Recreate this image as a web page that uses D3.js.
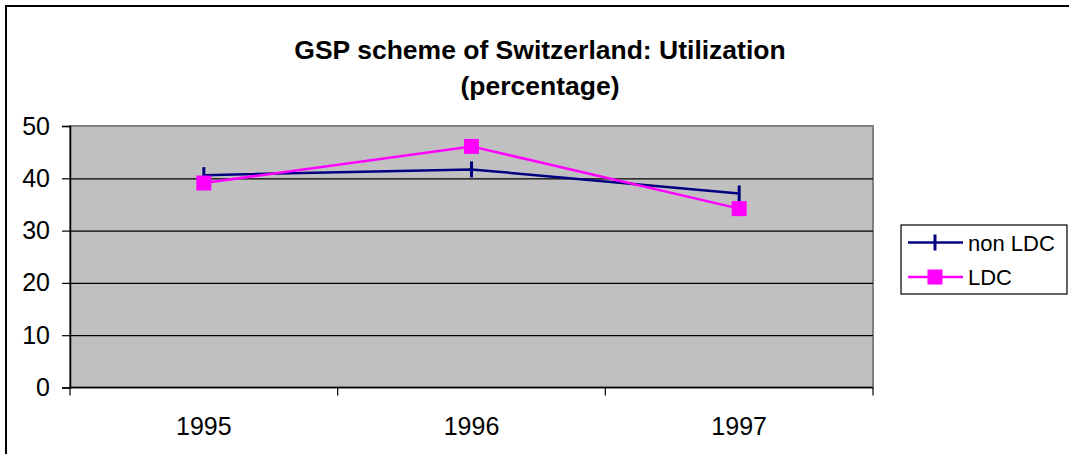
<!DOCTYPE html>
<html>
<head>
<meta charset="utf-8">
<script src="https://cdn.jsdelivr.net/npm/d3@7"></script>
<style>
  body { margin: 0; background: #fff; }
  svg { display: block; font-family: "Liberation Sans", Arial, sans-serif; }
</style>
</head>
<body>
<svg width="1069" height="454"></svg>
<script>
const years = ['1995', '1996', '1997'];
const nonLdc = [40.6, 41.7, 37.1];
const ldc = [39.1, 46.1, 34.2];
const yTicks = [0, 10, 20, 30, 40, 50];
const seriesNames = ['non LDC', 'LDC'];

const plot = { left: 70, right: 873, top: 126, bottom: 387.5 };

const svg = d3.select('svg');

// outer chart frame (runs off the right and bottom edges)
svg.append('rect')
    .attr('x', 6).attr('y', 6)
    .attr('width', 1100).attr('height', 500)
    .attr('fill', 'none').attr('stroke', '#000').attr('stroke-width', 2);

const xScale = d3.scaleBand().domain(years).range([plot.left, plot.right]);
const yScale = d3.scaleLinear().domain([0, 50]).range([plot.bottom, plot.top]);

// plot area
svg.append('rect')
    .attr('x', plot.left).attr('y', plot.top)
    .attr('width', plot.right - plot.left).attr('height', plot.bottom - plot.top)
    .attr('fill', '#c0c0c0').attr('stroke', '#808080').attr('stroke-width', 2);

// gridlines
svg.append('g')
    .attr('transform', `translate(${plot.left},0)`)
    .call(d3.axisLeft(yScale).tickValues(yTicks.slice(1, -1)).tickSize(-(plot.right - plot.left)).tickFormat(''))
    .call(g => g.select('.domain').remove())
    .call(g => g.selectAll('line').attr('stroke', '#000').attr('stroke-width', 1.2));

// y axis
svg.append('g')
    .attr('transform', `translate(${plot.left},0)`)
    .call(d3.axisLeft(yScale).tickValues(yTicks).tickSize(8).tickPadding(12))
    .call(g => g.select('.domain').attr('stroke', '#000').attr('stroke-width', 1.5))
    .call(g => g.selectAll('line').attr('stroke', '#000').attr('stroke-width', 1.2))
    .call(g => g.selectAll('text').attr('font-size', 25).attr('fill', '#000').attr('font-family', 'Liberation Sans, Arial, sans-serif'));

// x axis
svg.append('line')
    .attr('x1', plot.left).attr('x2', plot.right)
    .attr('y1', plot.bottom).attr('y2', plot.bottom)
    .attr('stroke', '#000').attr('stroke-width', 1.5);

const bounds = years.map(d => xScale(d)).concat([xScale.range()[1]]);
svg.append('g').selectAll('line')
    .data(bounds)
    .enter()
    .append('line')
    .attr('x1', d => d).attr('x2', d => d)
    .attr('y1', plot.bottom).attr('y2', plot.bottom + 8)
    .attr('stroke', '#000').attr('stroke-width', 1.2);

svg.append('g').selectAll('text')
    .data(years)
    .enter()
    .append('text')
    .attr('x', d => xScale(d) + xScale.bandwidth() / 2)
    .attr('y', 435)
    .attr('text-anchor', 'middle')
    .attr('font-size', 25)
    .text(d => d);

// series
const cx = (d, i) => xScale(years[i]) + xScale.bandwidth() / 2;
const line = d3.line().x(cx).y(d => yScale(d));

svg.append('path')
    .datum(nonLdc)
    .attr('d', line)
    .attr('fill', 'none').attr('stroke', '#000080').attr('stroke-width', 2.5);

svg.append('g').selectAll('line')
    .data(nonLdc)
    .enter()
    .append('line')
    .attr('x1', cx).attr('x2', cx)
    .attr('y1', d => yScale(d) - 8).attr('y2', d => yScale(d) + 8)
    .attr('stroke', '#000080').attr('stroke-width', 3);

svg.append('path')
    .datum(ldc)
    .attr('d', line)
    .attr('fill', 'none').attr('stroke', '#ff00ff').attr('stroke-width', 2.5);

svg.append('g').selectAll('rect')
    .data(ldc)
    .enter()
    .append('rect')
    .attr('x', (d, i) => cx(d, i) - 7.5)
    .attr('y', d => yScale(d) - 7.5)
    .attr('width', 15).attr('height', 15)
    .attr('fill', '#ff00ff');

// title
svg.append('text')
    .attr('x', 540).attr('y', 59)
    .attr('text-anchor', 'middle')
    .attr('font-size', 26.5).attr('font-weight', 'bold')
    .text('GSP scheme of Switzerland: Utilization');

svg.append('text')
    .attr('x', 540).attr('y', 95)
    .attr('text-anchor', 'middle')
    .attr('font-size', 26.5).attr('font-weight', 'bold')
    .text('(percentage)');

// legend
const legend = svg.append('g');
legend.append('rect')
    .attr('x', 901).attr('y', 225)
    .attr('width', 166).attr('height', 69)
    .attr('fill', '#fff').attr('stroke', '#000').attr('stroke-width', 1.2);

const rowY = [242.5, 277];
const colors = ['#000080', '#ff00ff'];
seriesNames.forEach((name, i) => {
    legend.append('line')
        .attr('x1', 908).attr('x2', 963)
        .attr('y1', rowY[i]).attr('y2', rowY[i])
        .attr('stroke', colors[i]).attr('stroke-width', 2.5);
    if (i === 0) {
        legend.append('line')
            .attr('x1', 935).attr('x2', 935)
            .attr('y1', rowY[i] - 8).attr('y2', rowY[i] + 8)
            .attr('stroke', colors[i]).attr('stroke-width', 3);
    } else {
        legend.append('rect')
            .attr('x', 935 - 7.5).attr('y', rowY[i] - 7.5)
            .attr('width', 15).attr('height', 15)
            .attr('fill', colors[i]);
    }
    legend.append('text')
        .attr('x', 968).attr('y', rowY[i] + 8)
        .attr('font-size', 22)
        .text(name);
});
</script>
</body>
</html>
